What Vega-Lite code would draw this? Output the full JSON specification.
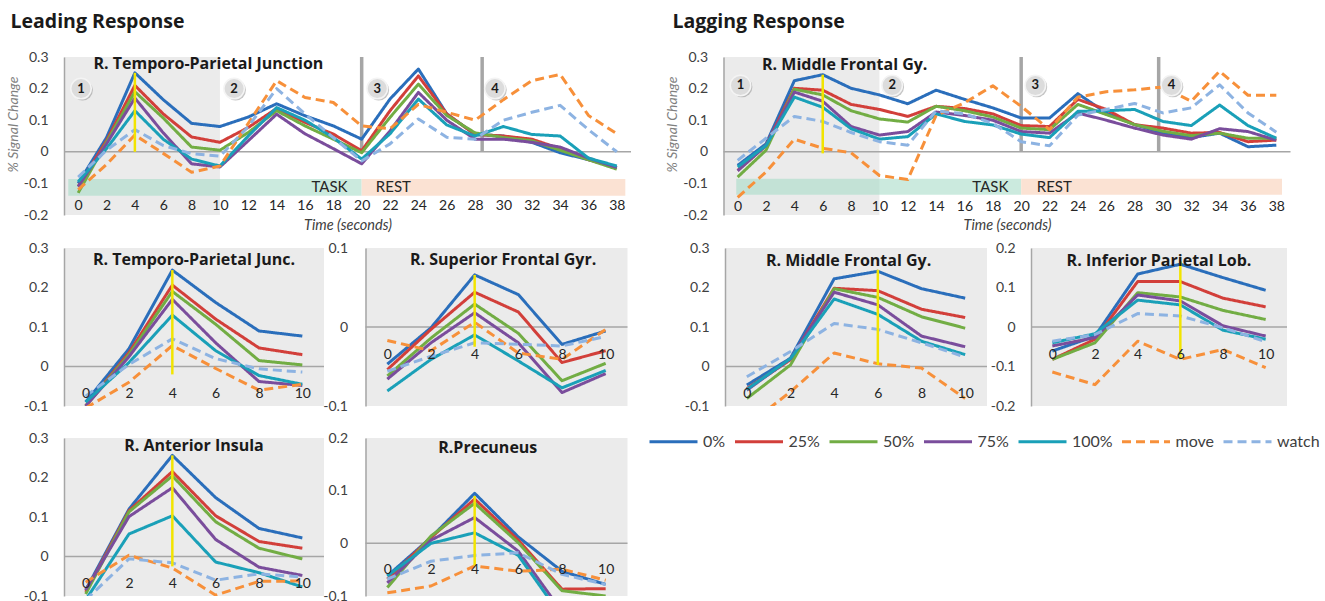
{
"$schema":"https://vega.github.io/schema/vega-lite/v6.json",
"padding":{"left":6,"top":12,"right":2,"bottom":0},
"background":"white",
"config":{"font":"Lato","view":{"stroke":null},
 "axis":{"labelFont":"Lato","titleFont":"Lato","grid":false,"ticks":false,"domainColor":"#a6a6a6","domainWidth":1.5,"labelColor":"#404040","labelFontSize":14,"labelFlush":false,"labelOverlap":false,"tickCount":50,"zindex":1},
 "legend":{"symbolType":"stroke","symbolSize":2304,"symbolStrokeWidth":3,"labelFontSize":16,"labelFont":"Lato","labelColor":"#404040","labelOffset":4,"columnPadding":2.5,"padding":0},
 "title":{"font":"Open Sans"}},
"datasets":{
"lb":[
{"t":0,"s":"0%","v":-0.1},{"t":2,"s":"0%","v":0.045},{"t":4,"s":"0%","v":0.25},{"t":6,"s":"0%","v":0.165},{"t":8,"s":"0%","v":0.09},{"t":10,"s":"0%","v":0.08},{"t":12,"s":"0%","v":0.11},{"t":14,"s":"0%","v":0.152},{"t":16,"s":"0%","v":0.114},{"t":18,"s":"0%","v":0.082},{"t":20,"s":"0%","v":0.04},{"t":22,"s":"0%","v":0.167},{"t":24,"s":"0%","v":0.262},{"t":26,"s":"0%","v":0.12},{"t":28,"s":"0%","v":0.055},{"t":30,"s":"0%","v":0.05},{"t":32,"s":"0%","v":0.03},{"t":34,"s":"0%","v":-0.003},{"t":36,"s":"0%","v":-0.025},{"t":38,"s":"0%","v":-0.05},
{"t":0,"s":"25%","v":-0.11},{"t":2,"s":"25%","v":0.035},{"t":4,"s":"25%","v":0.21},{"t":6,"s":"25%","v":0.12},{"t":8,"s":"25%","v":0.047},{"t":10,"s":"25%","v":0.03},{"t":12,"s":"25%","v":0.077},{"t":14,"s":"25%","v":0.137},{"t":16,"s":"25%","v":0.093},{"t":18,"s":"25%","v":0.056},{"t":20,"s":"25%","v":0.003},{"t":22,"s":"25%","v":0.13},{"t":24,"s":"25%","v":0.24},{"t":26,"s":"25%","v":0.12},{"t":28,"s":"25%","v":0.055},{"t":30,"s":"25%","v":0.05},{"t":32,"s":"25%","v":0.04},{"t":34,"s":"25%","v":0.01},{"t":36,"s":"25%","v":-0.025},{"t":38,"s":"25%","v":-0.05},
{"t":0,"s":"50%","v":-0.13},{"t":2,"s":"50%","v":0.03},{"t":4,"s":"50%","v":0.19},{"t":6,"s":"50%","v":0.107},{"t":8,"s":"50%","v":0.015},{"t":10,"s":"50%","v":0.005},{"t":12,"s":"50%","v":0.061},{"t":14,"s":"50%","v":0.13},{"t":16,"s":"50%","v":0.082},{"t":18,"s":"50%","v":0.04},{"t":20,"s":"50%","v":-0.003},{"t":22,"s":"50%","v":0.109},{"t":24,"s":"50%","v":0.214},{"t":26,"s":"50%","v":0.115},{"t":28,"s":"50%","v":0.06},{"t":30,"s":"50%","v":0.045},{"t":32,"s":"50%","v":0.035},{"t":34,"s":"50%","v":0.005},{"t":36,"s":"50%","v":-0.025},{"t":38,"s":"50%","v":-0.055},
{"t":0,"s":"75%","v":-0.11},{"t":2,"s":"75%","v":0.025},{"t":4,"s":"75%","v":0.17},{"t":6,"s":"75%","v":0.06},{"t":8,"s":"75%","v":-0.038},{"t":10,"s":"75%","v":-0.048},{"t":12,"s":"75%","v":0.035},{"t":14,"s":"75%","v":0.119},{"t":16,"s":"75%","v":0.057},{"t":18,"s":"75%","v":0.01},{"t":20,"s":"75%","v":-0.038},{"t":22,"s":"75%","v":0.066},{"t":24,"s":"75%","v":0.188},{"t":26,"s":"75%","v":0.1},{"t":28,"s":"75%","v":0.04},{"t":30,"s":"75%","v":0.04},{"t":32,"s":"75%","v":0.03},{"t":34,"s":"75%","v":0.015},{"t":36,"s":"75%","v":-0.02},{"t":38,"s":"75%","v":-0.05},
{"t":0,"s":"100%","v":-0.095},{"t":2,"s":"100%","v":0.01},{"t":4,"s":"100%","v":0.13},{"t":6,"s":"100%","v":0.04},{"t":8,"s":"100%","v":-0.023},{"t":10,"s":"100%","v":-0.045},{"t":12,"s":"100%","v":0.05},{"t":14,"s":"100%","v":0.14},{"t":16,"s":"100%","v":0.1},{"t":18,"s":"100%","v":0.045},{"t":20,"s":"100%","v":-0.023},{"t":22,"s":"100%","v":0.057},{"t":24,"s":"100%","v":0.167},{"t":26,"s":"100%","v":0.085},{"t":28,"s":"100%","v":0.05},{"t":30,"s":"100%","v":0.08},{"t":32,"s":"100%","v":0.055},{"t":34,"s":"100%","v":0.05},{"t":36,"s":"100%","v":-0.02},{"t":38,"s":"100%","v":-0.045},
{"t":0,"s":"move","v":-0.12},{"t":2,"s":"move","v":-0.04},{"t":4,"s":"move","v":0.053},{"t":6,"s":"move","v":-0.005},{"t":8,"s":"move","v":-0.065},{"t":10,"s":"move","v":-0.045},{"t":12,"s":"move","v":0.09},{"t":14,"s":"move","v":0.225},{"t":16,"s":"move","v":0.172},{"t":18,"s":"move","v":0.156},{"t":20,"s":"move","v":0.082},{"t":22,"s":"move","v":0.073},{"t":24,"s":"move","v":0.15},{"t":26,"s":"move","v":0.125},{"t":28,"s":"move","v":0.1},{"t":30,"s":"move","v":0.165},{"t":32,"s":"move","v":0.225},{"t":34,"s":"move","v":0.245},{"t":36,"s":"move","v":0.115},{"t":38,"s":"move","v":0.057},
{"t":0,"s":"watch","v":-0.08},{"t":2,"s":"watch","v":0.005},{"t":4,"s":"watch","v":0.07},{"t":6,"s":"watch","v":0.02},{"t":8,"s":"watch","v":-0.006},{"t":10,"s":"watch","v":-0.014},{"t":12,"s":"watch","v":0.08},{"t":14,"s":"watch","v":0.2},{"t":16,"s":"watch","v":0.12},{"t":18,"s":"watch","v":0.045},{"t":20,"s":"watch","v":-0.029},{"t":22,"s":"watch","v":0.025},{"t":24,"s":"watch","v":0.104},{"t":26,"s":"watch","v":0.046},{"t":28,"s":"watch","v":0.04},{"t":30,"s":"watch","v":0.1},{"t":32,"s":"watch","v":0.125},{"t":34,"s":"watch","v":0.147},{"t":36,"s":"watch","v":0.07},{"t":38,"s":"watch","v":0.0}
],
"lg":[
{"t":0,"s":"0%","v":-0.043},{"t":2,"s":"0%","v":0.025},{"t":4,"s":"0%","v":0.225},{"t":6,"s":"0%","v":0.244},{"t":8,"s":"0%","v":0.201},{"t":10,"s":"0%","v":0.18},{"t":12,"s":"0%","v":0.152},{"t":14,"s":"0%","v":0.195},{"t":16,"s":"0%","v":0.166},{"t":18,"s":"0%","v":0.139},{"t":20,"s":"0%","v":0.107},{"t":22,"s":"0%","v":0.107},{"t":24,"s":"0%","v":0.184},{"t":26,"s":"0%","v":0.123},{"t":28,"s":"0%","v":0.086},{"t":30,"s":"0%","v":0.059},{"t":32,"s":"0%","v":0.045},{"t":34,"s":"0%","v":0.059},{"t":36,"s":"0%","v":0.016},{"t":38,"s":"0%","v":0.021},
{"t":0,"s":"25%","v":-0.059},{"t":2,"s":"25%","v":0.02},{"t":4,"s":"25%","v":0.201},{"t":6,"s":"25%","v":0.195},{"t":8,"s":"25%","v":0.15},{"t":10,"s":"25%","v":0.134},{"t":12,"s":"25%","v":0.112},{"t":14,"s":"25%","v":0.144},{"t":16,"s":"25%","v":0.137},{"t":18,"s":"25%","v":0.12},{"t":20,"s":"25%","v":0.083},{"t":22,"s":"25%","v":0.08},{"t":24,"s":"25%","v":0.166},{"t":26,"s":"25%","v":0.134},{"t":28,"s":"25%","v":0.086},{"t":30,"s":"25%","v":0.075},{"t":32,"s":"25%","v":0.059},{"t":34,"s":"25%","v":0.061},{"t":36,"s":"25%","v":0.032},{"t":38,"s":"25%","v":0.037},
{"t":0,"s":"50%","v":-0.08},{"t":2,"s":"50%","v":0.005},{"t":4,"s":"50%","v":0.198},{"t":6,"s":"50%","v":0.18},{"t":8,"s":"50%","v":0.13},{"t":10,"s":"50%","v":0.104},{"t":12,"s":"50%","v":0.094},{"t":14,"s":"50%","v":0.144},{"t":16,"s":"50%","v":0.13},{"t":18,"s":"50%","v":0.11},{"t":20,"s":"50%","v":0.075},{"t":22,"s":"50%","v":0.07},{"t":24,"s":"50%","v":0.15},{"t":26,"s":"50%","v":0.118},{"t":28,"s":"50%","v":0.086},{"t":30,"s":"50%","v":0.065},{"t":32,"s":"50%","v":0.051},{"t":34,"s":"50%","v":0.059},{"t":36,"s":"50%","v":0.043},{"t":38,"s":"50%","v":0.043},
{"t":0,"s":"75%","v":-0.06},{"t":2,"s":"75%","v":0.02},{"t":4,"s":"75%","v":0.189},{"t":6,"s":"75%","v":0.16},{"t":8,"s":"75%","v":0.08},{"t":10,"s":"75%","v":0.053},{"t":12,"s":"75%","v":0.064},{"t":14,"s":"75%","v":0.126},{"t":16,"s":"75%","v":0.115},{"t":18,"s":"75%","v":0.1},{"t":20,"s":"75%","v":0.064},{"t":22,"s":"75%","v":0.059},{"t":24,"s":"75%","v":0.123},{"t":26,"s":"75%","v":0.1},{"t":28,"s":"75%","v":0.075},{"t":30,"s":"75%","v":0.053},{"t":32,"s":"75%","v":0.04},{"t":34,"s":"75%","v":0.073},{"t":36,"s":"75%","v":0.064},{"t":38,"s":"75%","v":0.037},
{"t":0,"s":"100%","v":-0.048},{"t":2,"s":"100%","v":0.02},{"t":4,"s":"100%","v":0.173},{"t":6,"s":"100%","v":0.141},{"t":8,"s":"100%","v":0.073},{"t":10,"s":"100%","v":0.04},{"t":12,"s":"100%","v":0.048},{"t":14,"s":"100%","v":0.12},{"t":16,"s":"100%","v":0.096},{"t":18,"s":"100%","v":0.085},{"t":20,"s":"100%","v":0.056},{"t":22,"s":"100%","v":0.045},{"t":24,"s":"100%","v":0.128},{"t":26,"s":"100%","v":0.13},{"t":28,"s":"100%","v":0.134},{"t":30,"s":"100%","v":0.096},{"t":32,"s":"100%","v":0.083},{"t":34,"s":"100%","v":0.148},{"t":36,"s":"100%","v":0.083},{"t":38,"s":"100%","v":0.043},
{"t":0,"s":"move","v":-0.144},{"t":2,"s":"move","v":-0.064},{"t":4,"s":"move","v":0.04},{"t":6,"s":"move","v":0.011},{"t":8,"s":"move","v":-0.003},{"t":10,"s":"move","v":-0.075},{"t":12,"s":"move","v":-0.088},{"t":14,"s":"move","v":0.115},{"t":16,"s":"move","v":0.155},{"t":18,"s":"move","v":0.209},{"t":20,"s":"move","v":0.144},{"t":22,"s":"move","v":0.07},{"t":24,"s":"move","v":0.173},{"t":26,"s":"move","v":0.19},{"t":28,"s":"move","v":0.196},{"t":30,"s":"move","v":0.205},{"t":32,"s":"move","v":0.16},{"t":34,"s":"move","v":0.255},{"t":36,"s":"move","v":0.179},{"t":38,"s":"move","v":0.179},
{"t":0,"s":"watch","v":-0.027},{"t":2,"s":"watch","v":0.043},{"t":4,"s":"watch","v":0.112},{"t":6,"s":"watch","v":0.096},{"t":8,"s":"watch","v":0.061},{"t":10,"s":"watch","v":0.032},{"t":12,"s":"watch","v":0.021},{"t":14,"s":"watch","v":0.13},{"t":16,"s":"watch","v":0.12},{"t":18,"s":"watch","v":0.09},{"t":20,"s":"watch","v":0.032},{"t":22,"s":"watch","v":0.019},{"t":24,"s":"watch","v":0.116},{"t":26,"s":"watch","v":0.134},{"t":28,"s":"watch","v":0.153},{"t":30,"s":"watch","v":0.123},{"t":32,"s":"watch","v":0.139},{"t":34,"s":"watch","v":0.212},{"t":36,"s":"watch","v":0.123},{"t":38,"s":"watch","v":0.062}
],
"tpj":[
{"t":0,"s":"0%","v":-0.09},{"t":2,"s":"0%","v":0.045},{"t":4,"s":"0%","v":0.244},{"t":6,"s":"0%","v":0.162},{"t":8,"s":"0%","v":0.09},{"t":10,"s":"0%","v":0.077},
{"t":0,"s":"25%","v":-0.1},{"t":2,"s":"25%","v":0.035},{"t":4,"s":"25%","v":0.206},{"t":6,"s":"25%","v":0.12},{"t":8,"s":"25%","v":0.047},{"t":10,"s":"25%","v":0.03},
{"t":0,"s":"50%","v":-0.1},{"t":2,"s":"50%","v":0.03},{"t":4,"s":"50%","v":0.19},{"t":6,"s":"50%","v":0.107},{"t":8,"s":"50%","v":0.015},{"t":10,"s":"50%","v":0.004},
{"t":0,"s":"75%","v":-0.1},{"t":2,"s":"75%","v":0.025},{"t":4,"s":"75%","v":0.17},{"t":6,"s":"75%","v":0.06},{"t":8,"s":"75%","v":-0.038},{"t":10,"s":"75%","v":-0.048},
{"t":0,"s":"100%","v":-0.09},{"t":2,"s":"100%","v":0.01},{"t":4,"s":"100%","v":0.13},{"t":6,"s":"100%","v":0.04},{"t":8,"s":"100%","v":-0.023},{"t":10,"s":"100%","v":-0.045},
{"t":0,"s":"move","v":-0.105},{"t":2,"s":"move","v":-0.04},{"t":4,"s":"move","v":0.053},{"t":6,"s":"move","v":-0.005},{"t":8,"s":"move","v":-0.06},{"t":10,"s":"move","v":-0.045},
{"t":0,"s":"watch","v":-0.075},{"t":2,"s":"watch","v":0.005},{"t":4,"s":"watch","v":0.07},{"t":6,"s":"watch","v":0.02},{"t":8,"s":"watch","v":-0.006},{"t":10,"s":"watch","v":-0.014}
],
"sfg":[
{"t":0,"s":"0%","v":-0.047},{"t":2,"s":"0%","v":-0.001},{"t":4,"s":"0%","v":0.066},{"t":6,"s":"0%","v":0.041},{"t":8,"s":"0%","v":-0.022},{"t":10,"s":"0%","v":-0.005},
{"t":0,"s":"25%","v":-0.054},{"t":2,"s":"25%","v":-0.003},{"t":4,"s":"25%","v":0.044},{"t":6,"s":"25%","v":0.019},{"t":8,"s":"25%","v":-0.045},{"t":10,"s":"25%","v":-0.03},
{"t":0,"s":"50%","v":-0.062},{"t":2,"s":"50%","v":-0.014},{"t":4,"s":"50%","v":0.029},{"t":6,"s":"50%","v":-0.008},{"t":8,"s":"50%","v":-0.068},{"t":10,"s":"50%","v":-0.046},
{"t":0,"s":"75%","v":-0.066},{"t":2,"s":"75%","v":-0.02},{"t":4,"s":"75%","v":0.018},{"t":6,"s":"75%","v":-0.02},{"t":8,"s":"75%","v":-0.083},{"t":10,"s":"75%","v":-0.059},
{"t":0,"s":"100%","v":-0.081},{"t":2,"s":"100%","v":-0.041},{"t":4,"s":"100%","v":-0.01},{"t":6,"s":"100%","v":-0.043},{"t":8,"s":"100%","v":-0.077},{"t":10,"s":"100%","v":-0.055},
{"t":0,"s":"move","v":-0.017},{"t":2,"s":"move","v":-0.03},{"t":4,"s":"move","v":0.006},{"t":6,"s":"move","v":-0.033},{"t":8,"s":"move","v":-0.041},{"t":10,"s":"move","v":-0.003},
{"t":0,"s":"watch","v":-0.056},{"t":2,"s":"watch","v":-0.037},{"t":4,"s":"watch","v":-0.02},{"t":6,"s":"watch","v":-0.022},{"t":8,"s":"watch","v":-0.024},{"t":10,"s":"watch","v":-0.012}
],
"ai":[
{"t":0,"s":"0%","v":-0.085},{"t":2,"s":"0%","v":0.12},{"t":4,"s":"0%","v":0.256},{"t":6,"s":"0%","v":0.149},{"t":8,"s":"0%","v":0.071},{"t":10,"s":"0%","v":0.047},
{"t":0,"s":"25%","v":-0.09},{"t":2,"s":"25%","v":0.116},{"t":4,"s":"25%","v":0.215},{"t":6,"s":"25%","v":0.103},{"t":8,"s":"25%","v":0.038},{"t":10,"s":"25%","v":0.021},
{"t":0,"s":"50%","v":-0.095},{"t":2,"s":"50%","v":0.113},{"t":4,"s":"50%","v":0.204},{"t":6,"s":"50%","v":0.088},{"t":8,"s":"50%","v":0.021},{"t":10,"s":"50%","v":-0.006},
{"t":0,"s":"75%","v":-0.085},{"t":2,"s":"75%","v":0.101},{"t":4,"s":"75%","v":0.174},{"t":6,"s":"75%","v":0.043},{"t":8,"s":"75%","v":-0.027},{"t":10,"s":"75%","v":-0.048},
{"t":0,"s":"100%","v":-0.11},{"t":2,"s":"100%","v":0.057},{"t":4,"s":"100%","v":0.103},{"t":6,"s":"100%","v":-0.014},{"t":8,"s":"100%","v":-0.041},{"t":10,"s":"100%","v":-0.077},
{"t":0,"s":"move","v":-0.065},{"t":2,"s":"move","v":0.003},{"t":4,"s":"move","v":-0.029},{"t":6,"s":"move","v":-0.098},{"t":8,"s":"move","v":-0.063},{"t":10,"s":"move","v":-0.062},
{"t":0,"s":"watch","v":-0.11},{"t":2,"s":"watch","v":-0.006},{"t":4,"s":"watch","v":-0.016},{"t":6,"s":"watch","v":-0.06},{"t":8,"s":"watch","v":-0.044},{"t":10,"s":"watch","v":-0.052}
],
"pre":[
{"t":0,"s":"0%","v":-0.062},{"t":2,"s":"0%","v":0.011},{"t":4,"s":"0%","v":0.095},{"t":6,"s":"0%","v":0.012},{"t":8,"s":"0%","v":-0.053},{"t":10,"s":"0%","v":-0.078},
{"t":0,"s":"25%","v":-0.068},{"t":2,"s":"25%","v":0.011},{"t":4,"s":"25%","v":0.084},{"t":6,"s":"25%","v":0.006},{"t":8,"s":"25%","v":-0.087},{"t":10,"s":"25%","v":-0.086},
{"t":0,"s":"50%","v":-0.084},{"t":2,"s":"50%","v":0.014},{"t":4,"s":"50%","v":0.076},{"t":6,"s":"50%","v":0.001},{"t":8,"s":"50%","v":-0.09},{"t":10,"s":"50%","v":-0.1},
{"t":0,"s":"75%","v":-0.075},{"t":2,"s":"75%","v":0.006},{"t":4,"s":"75%","v":0.049},{"t":6,"s":"75%","v":-0.015},{"t":8,"s":"75%","v":-0.13},{"t":10,"s":"75%","v":-0.13},
{"t":0,"s":"100%","v":-0.062},{"t":2,"s":"100%","v":0.0},{"t":4,"s":"100%","v":0.02},{"t":6,"s":"100%","v":-0.023},{"t":8,"s":"100%","v":-0.14},{"t":10,"s":"100%","v":-0.14},
{"t":0,"s":"move","v":-0.094},{"t":2,"s":"move","v":-0.081},{"t":4,"s":"move","v":-0.043},{"t":6,"s":"move","v":-0.053},{"t":8,"s":"move","v":-0.049},{"t":10,"s":"move","v":-0.07},
{"t":0,"s":"watch","v":-0.068},{"t":2,"s":"watch","v":-0.034},{"t":4,"s":"watch","v":-0.023},{"t":6,"s":"watch","v":-0.018},{"t":8,"s":"watch","v":-0.059},{"t":10,"s":"watch","v":-0.078}
],
"mfg":[
{"t":0,"s":"0%","v":-0.047},{"t":2,"s":"0%","v":0.021},{"t":4,"s":"0%","v":0.222},{"t":6,"s":"0%","v":0.241},{"t":8,"s":"0%","v":0.197},{"t":10,"s":"0%","v":0.173},
{"t":0,"s":"25%","v":-0.056},{"t":2,"s":"25%","v":0.017},{"t":4,"s":"25%","v":0.198},{"t":6,"s":"25%","v":0.192},{"t":8,"s":"25%","v":0.145},{"t":10,"s":"25%","v":0.124},
{"t":0,"s":"50%","v":-0.081},{"t":2,"s":"50%","v":0.004},{"t":4,"s":"50%","v":0.197},{"t":6,"s":"50%","v":0.175},{"t":8,"s":"50%","v":0.126},{"t":10,"s":"50%","v":0.097},
{"t":0,"s":"75%","v":-0.06},{"t":2,"s":"75%","v":0.02},{"t":4,"s":"75%","v":0.188},{"t":6,"s":"75%","v":0.156},{"t":8,"s":"75%","v":0.077},{"t":10,"s":"75%","v":0.05},
{"t":0,"s":"100%","v":-0.058},{"t":2,"s":"100%","v":0.02},{"t":4,"s":"100%","v":0.171},{"t":6,"s":"100%","v":0.132},{"t":8,"s":"100%","v":0.064},{"t":10,"s":"100%","v":0.03},
{"t":0,"s":"move","v":-0.15},{"t":2,"s":"move","v":-0.064},{"t":4,"s":"move","v":0.034},{"t":6,"s":"move","v":0.007},{"t":8,"s":"move","v":-0.004},{"t":10,"s":"move","v":-0.081},
{"t":0,"s":"watch","v":-0.026},{"t":2,"s":"watch","v":0.038},{"t":4,"s":"watch","v":0.109},{"t":6,"s":"watch","v":0.094},{"t":8,"s":"watch","v":0.06},{"t":10,"s":"watch","v":0.024}
],
"ipl":[
{"t":0,"s":"0%","v":-0.061},{"t":2,"s":"0%","v":-0.023},{"t":4,"s":"0%","v":0.134},{"t":6,"s":"0%","v":0.159},{"t":8,"s":"0%","v":0.125},{"t":10,"s":"0%","v":0.093},
{"t":0,"s":"25%","v":-0.082},{"t":2,"s":"25%","v":-0.031},{"t":4,"s":"25%","v":0.115},{"t":6,"s":"25%","v":0.115},{"t":8,"s":"25%","v":0.073},{"t":10,"s":"25%","v":0.051},
{"t":0,"s":"50%","v":-0.082},{"t":2,"s":"50%","v":-0.04},{"t":4,"s":"50%","v":0.087},{"t":6,"s":"50%","v":0.076},{"t":8,"s":"50%","v":0.042},{"t":10,"s":"50%","v":0.019},
{"t":0,"s":"75%","v":-0.048},{"t":2,"s":"75%","v":-0.027},{"t":4,"s":"75%","v":0.081},{"t":6,"s":"75%","v":0.066},{"t":8,"s":"75%","v":0.003},{"t":10,"s":"75%","v":-0.023},
{"t":0,"s":"100%","v":-0.04},{"t":2,"s":"100%","v":-0.017},{"t":4,"s":"100%","v":0.068},{"t":6,"s":"100%","v":0.056},{"t":8,"s":"100%","v":-0.008},{"t":10,"s":"100%","v":-0.031},
{"t":0,"s":"move","v":-0.114},{"t":2,"s":"move","v":-0.146},{"t":4,"s":"move","v":-0.036},{"t":6,"s":"move","v":-0.082},{"t":8,"s":"move","v":-0.057},{"t":10,"s":"move","v":-0.103},
{"t":0,"s":"watch","v":-0.036},{"t":2,"s":"watch","v":-0.019},{"t":4,"s":"watch","v":0.034},{"t":6,"s":"watch","v":0.028},{"t":8,"s":"watch","v":-0.002},{"t":10,"s":"watch","v":-0.037}
]
},
"spacing":9,
"vconcat":[
{"bounds":"flush","spacing":92.5,"hconcat":[
 {"width":567,"height":158,
  "title":{"text":"Leading Response","anchor":"start","font":"Open Sans","fontSize":19.5,"fontWeight":"bold","color":"#1a1a1a","dx":-53.5,"offset":17.5,"frame":"group"},
  "data":{"values":[{}]},
  "layer":[
   {"mark":{"type":"rect","color":"#ebebeb"},"encoding":{"x":{"datum":-1},"x2":{"datum":10},"y":{"datum":0.3},"y2":{"datum":-0.2}}},
   {"mark":{"type":"rect","color":"#a8dcc8","opacity":0.6},"encoding":{"x":{"datum":-0.7},"x2":{"datum":20},"y":{"datum":-0.086},"y2":{"datum":-0.139}}},
   {"mark":{"type":"rect","color":"#fbe2d3"},"encoding":{"x":{"datum":20},"x2":{"datum":38.6},"y":{"datum":-0.086},"y2":{"datum":-0.139}}},
   {"mark":{"type":"text","align":"right","baseline":"middle","fontSize":15,"color":"#262626"},"encoding":{"x":{"datum":19},"y":{"datum":-0.112},"text":{"value":"TASK"}}},
   {"mark":{"type":"text","align":"left","baseline":"middle","fontSize":15,"color":"#262626"},"encoding":{"x":{"datum":21},"y":{"datum":-0.112},"text":{"value":"REST"}}},
   {"mark":{"type":"rule","color":"#a6a6a6","strokeWidth":3.5},"encoding":{"x":{"datum":20},"y":{"datum":0.3},"y2":{"datum":0}}},
   {"mark":{"type":"rule","color":"#a6a6a6","strokeWidth":3.5},"encoding":{"x":{"datum":28.5},"y":{"datum":0.3},"y2":{"datum":0}}},
   {"mark":{"type":"rule","color":"#a6a6a6","strokeWidth":1.5},"encoding":{"y":{"datum":0}}},
   {"data":{"name":"lb"},"mark":{"type":"line","strokeWidth":3,"strokeJoin":"round","clip":true},
    "encoding":{
     "x":{"field":"t","type":"quantitative","scale":{"domain":[-1,39],"nice":false,"zero":false},"axis":{"values":[0,2,4,6,8,10,12,14,16,18,20,22,24,26,28,30,32,34,36,38],"tickCount":50,"format":"d","title":"Time (seconds)","titleFontStyle":"italic","titleFontWeight":"normal","titleFontSize":14.5,"titleColor":"#404040","titlePadding":3,"labelPadding":-10,"labelBaseline":"middle","domain":false,"labelColor":"#262626","labelOverlap":false,"labelFlush":false,"zindex":1}},
     "y":{"field":"v","type":"quantitative","scale":{"domain":[-0.2,0.3],"nice":false,"zero":false},"axis":{"values":[-0.2,-0.1,0,0.1,0.2,0.3],"tickCount":50,"labelExpr":"replace(format(datum.value, '.1~f'), '\u2212', '-')","title":"% Signal Change","titleY":67,"titleFontStyle":"italic","titleFontWeight":"normal","titleFontSize":14,"titleColor":"#7f7f7f","titlePadding":3,"labelPadding":16,"labelOverlap":false,"labelFlush":false,"zindex":1}},
     "color":{"field":"s","type":"nominal","scale":{"domain":["0%","25%","50%","75%","100%","move","watch"],"range":["#2a6ebb","#d23f3a","#72ad44","#7a4d9c","#1aa0b8","#f7903a","#8db3e2"]},"legend":{"title":null,"orient":"none","legendX":584,"legendY":359,"direction":"horizontal"}},
     "strokeDash":{"field":"s","type":"nominal","scale":{"domain":["0%","25%","50%","75%","100%","move","watch"],"range":[[1,0],[1,0],[1,0],[1,0],[1,0],[9,5],[9,5]]},"legend":{"title":null,"orient":"none","legendX":584,"legendY":359,"direction":"horizontal"}}}},
   {"mark":{"type":"rule","color":"#f2e400","strokeWidth":2.5},"encoding":{"x":{"datum":4},"y":{"datum":0.25},"y2":{"datum":0}}},
   {"data":{"values":[{"t":0.2,"n":"1"},{"t":11,"n":"2"},{"t":21.1,"n":"3"},{"t":29.4,"n":"4"}]},"mark":{"type":"point","filled":true,"size":430,"color":"#8c8c8c","opacity":0.5,"xOffset":1.5,"yOffset":1.5},"encoding":{"x":{"field":"t","type":"quantitative"},"y":{"datum":0.2}}},
   {"data":{"values":[{"t":0.2,"n":"1"},{"t":11,"n":"2"},{"t":21.1,"n":"3"},{"t":29.4,"n":"4"}]},"mark":{"type":"point","filled":true,"size":420,"color":"#dcdcdc","opacity":1,"stroke":"#f4f4f4","strokeWidth":1.5},"encoding":{"x":{"field":"t","type":"quantitative"},"y":{"datum":0.2}}},
   {"data":{"values":[{"t":0.2,"n":"1"},{"t":11,"n":"2"},{"t":21.1,"n":"3"},{"t":29.4,"n":"4"}]},"mark":{"type":"text","fontSize":13,"fontWeight":"bold","color":"#1a1a1a","baseline":"middle"},"encoding":{"x":{"field":"t","type":"quantitative"},"y":{"datum":0.2},"text":{"field":"n"}}},
   {"mark":{"type":"text","align":"left","baseline":"middle","font":"Open Sans","fontSize":16,"fontWeight":"bold","color":"#1a1a1a"},"encoding":{"x":{"datum":1.08},"y":{"datum":0.278},"text":{"value":"R. Temporo-Parietal Junction"}}}
  ]},
 {"width":567,"height":158,
  "title":{"text":"Lagging Response","anchor":"start","font":"Open Sans","fontSize":19.5,"fontWeight":"bold","color":"#1a1a1a","dx":-51,"offset":17.5,"frame":"group"},
  "data":{"values":[{}]},
  "layer":[
   {"mark":{"type":"rect","color":"#ebebeb"},"encoding":{"x":{"datum":-1},"x2":{"datum":10},"y":{"datum":0.3},"y2":{"datum":-0.2}}},
   {"mark":{"type":"rect","color":"#a8dcc8","opacity":0.6},"encoding":{"x":{"datum":-0.1},"x2":{"datum":20},"y":{"datum":-0.085},"y2":{"datum":-0.136}}},
   {"mark":{"type":"rect","color":"#fbe2d3"},"encoding":{"x":{"datum":20},"x2":{"datum":38.4},"y":{"datum":-0.085},"y2":{"datum":-0.136}}},
   {"mark":{"type":"text","align":"right","baseline":"middle","fontSize":15,"color":"#262626"},"encoding":{"x":{"datum":19.1},"y":{"datum":-0.11},"text":{"value":"TASK"}}},
   {"mark":{"type":"text","align":"left","baseline":"middle","fontSize":15,"color":"#262626"},"encoding":{"x":{"datum":21.1},"y":{"datum":-0.11},"text":{"value":"REST"}}},
   {"mark":{"type":"rule","color":"#a6a6a6","strokeWidth":3.5},"encoding":{"x":{"datum":20},"y":{"datum":0.3},"y2":{"datum":0}}},
   {"mark":{"type":"rule","color":"#a6a6a6","strokeWidth":3.5},"encoding":{"x":{"datum":29.7},"y":{"datum":0.3},"y2":{"datum":0}}},
   {"mark":{"type":"rule","color":"#a6a6a6","strokeWidth":1.5},"encoding":{"y":{"datum":0}}},
   {"data":{"name":"lg"},"mark":{"type":"line","strokeWidth":3,"strokeJoin":"round","clip":true},
    "encoding":{
     "x":{"field":"t","type":"quantitative","scale":{"domain":[-1,39],"nice":false,"zero":false},"axis":{"values":[0,2,4,6,8,10,12,14,16,18,20,22,24,26,28,30,32,34,36,38],"tickCount":50,"format":"d","title":"Time (seconds)","titleFontStyle":"italic","titleFontWeight":"normal","titleFontSize":14.5,"titleColor":"#404040","titlePadding":3,"labelPadding":-8.5,"labelBaseline":"middle","domain":false,"labelColor":"#262626","labelOverlap":false,"labelFlush":false,"zindex":1}},
     "y":{"field":"v","type":"quantitative","scale":{"domain":[-0.2,0.3],"nice":false,"zero":false},"axis":{"values":[-0.2,-0.1,0,0.1,0.2,0.3],"tickCount":50,"labelExpr":"replace(format(datum.value, '.1~f'), '\u2212', '-')","title":"% Signal Change","titleY":67,"titleFontStyle":"italic","titleFontWeight":"normal","titleFontSize":14,"titleColor":"#7f7f7f","titlePadding":3,"labelPadding":16,"labelOverlap":false,"labelFlush":false,"zindex":1}},
     "color":{"field":"s","type":"nominal","scale":{"domain":["0%","25%","50%","75%","100%","move","watch"],"range":["#2a6ebb","#d23f3a","#72ad44","#7a4d9c","#1aa0b8","#f7903a","#8db3e2"]},"legend":{"title":null,"orient":"none","legendX":584,"legendY":359,"direction":"horizontal"}},
     "strokeDash":{"field":"s","type":"nominal","scale":{"domain":["0%","25%","50%","75%","100%","move","watch"],"range":[[1,0],[1,0],[1,0],[1,0],[1,0],[9,5],[9,5]]},"legend":{"title":null,"orient":"none","legendX":584,"legendY":359,"direction":"horizontal"}}}},
   {"mark":{"type":"rule","color":"#f2e400","strokeWidth":2.5},"encoding":{"x":{"datum":6},"y":{"datum":0.244},"y2":{"datum":-0.005}}},
   {"data":{"values":[{"t":0.2,"n":"1"},{"t":10.9,"n":"2"},{"t":21,"n":"3"},{"t":30.6,"n":"4"}]},"mark":{"type":"point","filled":true,"size":430,"color":"#8c8c8c","opacity":0.5,"xOffset":1.5,"yOffset":1.5},"encoding":{"x":{"field":"t","type":"quantitative"},"y":{"datum":0.21}}},
   {"data":{"values":[{"t":0.2,"n":"1"},{"t":10.9,"n":"2"},{"t":21,"n":"3"},{"t":30.6,"n":"4"}]},"mark":{"type":"point","filled":true,"size":420,"color":"#dcdcdc","opacity":1,"stroke":"#f4f4f4","strokeWidth":1.5},"encoding":{"x":{"field":"t","type":"quantitative"},"y":{"datum":0.21}}},
   {"data":{"values":[{"t":0.2,"n":"1"},{"t":10.9,"n":"2"},{"t":21,"n":"3"},{"t":30.6,"n":"4"}]},"mark":{"type":"text","fontSize":13,"fontWeight":"bold","color":"#1a1a1a","baseline":"middle"},"encoding":{"x":{"field":"t","type":"quantitative"},"y":{"datum":0.21},"text":{"field":"n"}}},
   {"mark":{"type":"text","align":"left","baseline":"middle","font":"Open Sans","fontSize":16,"fontWeight":"bold","color":"#1a1a1a"},"encoding":{"x":{"datum":1.72},"y":{"datum":0.275},"text":{"value":"R. Middle Frontal Gy."}}}
  ]}
]},
{"spacing":18,"vconcat":[
 {"spacing":55,"hconcat":[
  {"bounds":"flush","spacing":41.5,"hconcat":[
   {"width":260,"height":158,"view":{"fill":"#ebebeb","stroke":null},"data":{"values":[{}]},
    "layer":[
     {"mark":{"type":"rule","color":"#a6a6a6","strokeWidth":1.5},"encoding":{"y":{"datum":0}}},
     {"data":{"name":"tpj"},"mark":{"type":"line","strokeWidth":3,"strokeJoin":"round","clip":true},
      "encoding":{
       "x":{"field":"t","type":"quantitative","scale":{"domain":[-1,11],"nice":false,"zero":false},"axis":{"values":[0,2,4,6,8,10],"tickCount":50,"format":"d","title":null,"labelPadding":-13,"labelBaseline":"middle","domain":false,"labelColor":"#262626","labelOverlap":false,"labelFlush":false,"zindex":1}},
       "y":{"field":"v","type":"quantitative","scale":{"domain":[-0.1,0.3],"nice":false,"zero":false},"axis":{"values":[-0.1,0,0.1,0.2,0.3],"tickCount":50,"labelExpr":"replace(format(datum.value, '.1~f'), '\u2212', '-')","title":"% Signal Change","titleOpacity":0,"titleFontStyle":"italic","titleFontWeight":"normal","titleFontSize":14,"titlePadding":3,"labelPadding":16,"labelOverlap":false,"labelFlush":false,"zindex":1}},
       "color":{"field":"s","type":"nominal","scale":{"domain":["0%","25%","50%","75%","100%","move","watch"],"range":["#2a6ebb","#d23f3a","#72ad44","#7a4d9c","#1aa0b8","#f7903a","#8db3e2"]},"legend":{"title":null,"orient":"none","legendX":584,"legendY":359,"direction":"horizontal"}},
       "strokeDash":{"field":"s","type":"nominal","scale":{"domain":["0%","25%","50%","75%","100%","move","watch"],"range":[[1,0],[1,0],[1,0],[1,0],[1,0],[9,5],[9,5]]},"legend":{"title":null,"orient":"none","legendX":584,"legendY":359,"direction":"horizontal"}}}},
     {"mark":{"type":"rule","color":"#f2e400","strokeWidth":2.5},"encoding":{"x":{"datum":4},"y":{"datum":0.244},"y2":{"datum":-0.02}}},
     {"mark":{"type":"text","align":"center","baseline":"middle","font":"Open Sans","fontSize":16,"fontWeight":"bold","color":"#1a1a1a"},"encoding":{"x":{"datum":5},"y":{"datum":0.27},"text":{"value":"R. Temporo-Parietal Junc."}}}
    ]},
   {"width":262,"height":158,"view":{"fill":"#ebebeb","stroke":null},"data":{"values":[{}]},
    "layer":[
     {"mark":{"type":"rule","color":"#a6a6a6","strokeWidth":1.5},"encoding":{"y":{"datum":0}}},
     {"data":{"name":"sfg"},"mark":{"type":"line","strokeWidth":3,"strokeJoin":"round","clip":true},
      "encoding":{
       "x":{"field":"t","type":"quantitative","scale":{"domain":[-1,11],"nice":false,"zero":false},"axis":{"values":[0,2,4,6,8,10],"tickCount":50,"format":"d","title":null,"labelPadding":-51.5,"labelBaseline":"middle","domain":false,"labelColor":"#262626","labelOverlap":false,"labelFlush":false,"zindex":1}},
       "y":{"field":"v","type":"quantitative","scale":{"domain":[-0.1,0.1],"nice":false,"zero":false},"axis":{"values":[-0.1,0,0.1],"tickCount":50,"labelExpr":"replace(format(datum.value, '.1~f'), '\u2212', '-')","title":null,"labelPadding":18,"labelOverlap":false,"labelFlush":false,"zindex":1}},
       "color":{"field":"s","type":"nominal","scale":{"domain":["0%","25%","50%","75%","100%","move","watch"],"range":["#2a6ebb","#d23f3a","#72ad44","#7a4d9c","#1aa0b8","#f7903a","#8db3e2"]},"legend":{"title":null,"orient":"none","legendX":584,"legendY":359,"direction":"horizontal"}},
       "strokeDash":{"field":"s","type":"nominal","scale":{"domain":["0%","25%","50%","75%","100%","move","watch"],"range":[[1,0],[1,0],[1,0],[1,0],[1,0],[9,5],[9,5]]},"legend":{"title":null,"orient":"none","legendX":584,"legendY":359,"direction":"horizontal"}}}},
     {"mark":{"type":"rule","color":"#f2e400","strokeWidth":2.5},"encoding":{"x":{"datum":4},"y":{"datum":0.066},"y2":{"datum":-0.025}}},
     {"mark":{"type":"text","align":"center","baseline":"middle","font":"Open Sans","fontSize":16,"fontWeight":"bold","color":"#1a1a1a"},"encoding":{"x":{"datum":5.3},"y":{"datum":0.085},"text":{"value":"R. Superior Frontal Gyr."}}}
    ]}
  ]},
  {"bounds":"flush","spacing":44,"hconcat":[
   {"width":262,"height":158,"view":{"fill":"#ebebeb","stroke":null},"data":{"values":[{}]},
    "layer":[
     {"mark":{"type":"rule","color":"#a6a6a6","strokeWidth":1.5},"encoding":{"y":{"datum":0}}},
     {"data":{"name":"mfg"},"mark":{"type":"line","strokeWidth":3,"strokeJoin":"round","clip":true},
      "encoding":{
       "x":{"field":"t","type":"quantitative","scale":{"domain":[-1,11],"nice":false,"zero":false},"axis":{"values":[0,2,4,6,8,10],"tickCount":50,"format":"d","title":null,"labelPadding":-12.5,"labelBaseline":"middle","domain":false,"labelColor":"#262626","labelOverlap":false,"labelFlush":false,"zindex":1}},
       "y":{"field":"v","type":"quantitative","scale":{"domain":[-0.1,0.3],"nice":false,"zero":false},"axis":{"values":[-0.1,0,0.1,0.2,0.3],"tickCount":50,"labelExpr":"replace(format(datum.value, '.1~f'), '\u2212', '-')","title":null,"labelPadding":16,"labelOverlap":false,"labelFlush":false,"zindex":1}},
       "color":{"field":"s","type":"nominal","scale":{"domain":["0%","25%","50%","75%","100%","move","watch"],"range":["#2a6ebb","#d23f3a","#72ad44","#7a4d9c","#1aa0b8","#f7903a","#8db3e2"]},"legend":{"title":null,"orient":"none","legendX":584,"legendY":359,"direction":"horizontal"}},
       "strokeDash":{"field":"s","type":"nominal","scale":{"domain":["0%","25%","50%","75%","100%","move","watch"],"range":[[1,0],[1,0],[1,0],[1,0],[1,0],[9,5],[9,5]]},"legend":{"title":null,"orient":"none","legendX":584,"legendY":359,"direction":"horizontal"}}}},
     {"mark":{"type":"rule","color":"#f2e400","strokeWidth":2.5},"encoding":{"x":{"datum":6},"y":{"datum":0.245},"y2":{"datum":0.004}}},
     {"mark":{"type":"text","align":"center","baseline":"middle","font":"Open Sans","fontSize":16,"fontWeight":"bold","color":"#1a1a1a"},"encoding":{"x":{"datum":4.66},"y":{"datum":0.266},"text":{"value":"R. Middle Frontal Gy."}}}
    ]},
   {"width":256,"height":158,"view":{"fill":"#ebebeb","stroke":null},"data":{"values":[{}]},
    "layer":[
     {"mark":{"type":"rule","color":"#a6a6a6","strokeWidth":1.5},"encoding":{"y":{"datum":0}}},
     {"data":{"name":"ipl"},"mark":{"type":"line","strokeWidth":3,"strokeJoin":"round","clip":true},
      "encoding":{
       "x":{"field":"t","type":"quantitative","scale":{"domain":[-1,11],"nice":false,"zero":false},"axis":{"values":[0,2,4,6,8,10],"tickCount":50,"format":"d","title":null,"labelPadding":-51.5,"labelBaseline":"middle","domain":false,"labelColor":"#262626","labelOverlap":false,"labelFlush":false,"zindex":1}},
       "y":{"field":"v","type":"quantitative","scale":{"domain":[-0.2,0.2],"nice":false,"zero":false},"axis":{"values":[-0.2,-0.1,0,0.1,0.2],"tickCount":50,"labelExpr":"replace(format(datum.value, '.1~f'), '\u2212', '-')","title":null,"labelPadding":16,"labelOverlap":false,"labelFlush":false,"zindex":1}},
       "color":{"field":"s","type":"nominal","scale":{"domain":["0%","25%","50%","75%","100%","move","watch"],"range":["#2a6ebb","#d23f3a","#72ad44","#7a4d9c","#1aa0b8","#f7903a","#8db3e2"]},"legend":{"title":null,"orient":"none","legendX":584,"legendY":359,"direction":"horizontal"}},
       "strokeDash":{"field":"s","type":"nominal","scale":{"domain":["0%","25%","50%","75%","100%","move","watch"],"range":[[1,0],[1,0],[1,0],[1,0],[1,0],[9,5],[9,5]]},"legend":{"title":null,"orient":"none","legendX":584,"legendY":359,"direction":"horizontal"}}}},
     {"mark":{"type":"rule","color":"#f2e400","strokeWidth":2.5},"encoding":{"x":{"datum":6},"y":{"datum":0.166},"y2":{"datum":-0.082}}},
     {"mark":{"type":"text","align":"center","baseline":"middle","font":"Open Sans","fontSize":16,"fontWeight":"bold","color":"#1a1a1a"},"encoding":{"x":{"datum":5},"y":{"datum":0.168},"text":{"value":"R. Inferior Parietal Lob."}}}
    ]}
  ]}
 ]},
 {"bounds":"flush","spacing":41.5,"hconcat":[
  {"width":260,"height":158,"view":{"fill":"#ebebeb","stroke":null},"data":{"values":[{}]},
   "layer":[
    {"mark":{"type":"rule","color":"#a6a6a6","strokeWidth":1.5},"encoding":{"y":{"datum":0}}},
    {"data":{"name":"ai"},"mark":{"type":"line","strokeWidth":3,"strokeJoin":"round","clip":true},
     "encoding":{
      "x":{"field":"t","type":"quantitative","scale":{"domain":[-1,11],"nice":false,"zero":false},"axis":{"values":[0,2,4,6,8,10],"tickCount":50,"format":"d","title":null,"labelPadding":-13,"labelBaseline":"middle","domain":false,"labelColor":"#262626","labelOverlap":false,"labelFlush":false,"zindex":1}},
      "y":{"field":"v","type":"quantitative","scale":{"domain":[-0.1,0.3],"nice":false,"zero":false},"axis":{"values":[-0.1,0,0.1,0.2,0.3],"tickCount":50,"labelExpr":"replace(format(datum.value, '.1~f'), '\u2212', '-')","title":"% Signal Change","titleOpacity":0,"titleFontStyle":"italic","titleFontWeight":"normal","titleFontSize":14,"titlePadding":3,"labelPadding":16,"labelOverlap":false,"labelFlush":false,"zindex":1}},
      "color":{"field":"s","type":"nominal","scale":{"domain":["0%","25%","50%","75%","100%","move","watch"],"range":["#2a6ebb","#d23f3a","#72ad44","#7a4d9c","#1aa0b8","#f7903a","#8db3e2"]},"legend":{"title":null,"orient":"none","legendX":584,"legendY":359,"direction":"horizontal"}},
      "strokeDash":{"field":"s","type":"nominal","scale":{"domain":["0%","25%","50%","75%","100%","move","watch"],"range":[[1,0],[1,0],[1,0],[1,0],[1,0],[9,5],[9,5]]},"legend":{"title":null,"orient":"none","legendX":584,"legendY":359,"direction":"horizontal"}}}},
    {"mark":{"type":"rule","color":"#f2e400","strokeWidth":2.5},"encoding":{"x":{"datum":4},"y":{"datum":0.256},"y2":{"datum":-0.025}}},
    {"mark":{"type":"text","align":"center","baseline":"middle","font":"Open Sans","fontSize":16,"fontWeight":"bold","color":"#1a1a1a"},"encoding":{"x":{"datum":5},"y":{"datum":0.279},"text":{"value":"R. Anterior Insula"}}}
   ]},
  {"width":262,"height":158,"view":{"fill":"#ebebeb","stroke":null},"data":{"values":[{}]},
   "layer":[
    {"mark":{"type":"rule","color":"#a6a6a6","strokeWidth":1.5},"encoding":{"y":{"datum":0}}},
    {"data":{"name":"pre"},"mark":{"type":"line","strokeWidth":3,"strokeJoin":"round","clip":true},
     "encoding":{
      "x":{"field":"t","type":"quantitative","scale":{"domain":[-1,11],"nice":false,"zero":false},"axis":{"values":[0,2,4,6,8,10],"tickCount":50,"format":"d","title":null,"labelPadding":-26.5,"labelBaseline":"middle","domain":false,"labelColor":"#262626","labelOverlap":false,"labelFlush":false,"zindex":1}},
      "y":{"field":"v","type":"quantitative","scale":{"domain":[-0.1,0.2],"nice":false,"zero":false},"axis":{"values":[-0.1,0,0.1,0.2],"tickCount":50,"labelExpr":"replace(format(datum.value, '.1~f'), '\u2212', '-')","title":null,"labelPadding":18,"labelOverlap":false,"labelFlush":false,"zindex":1}},
      "color":{"field":"s","type":"nominal","scale":{"domain":["0%","25%","50%","75%","100%","move","watch"],"range":["#2a6ebb","#d23f3a","#72ad44","#7a4d9c","#1aa0b8","#f7903a","#8db3e2"]},"legend":{"title":null,"orient":"none","legendX":584,"legendY":359,"direction":"horizontal"}},
      "strokeDash":{"field":"s","type":"nominal","scale":{"domain":["0%","25%","50%","75%","100%","move","watch"],"range":[[1,0],[1,0],[1,0],[1,0],[1,0],[9,5],[9,5]]},"legend":{"title":null,"orient":"none","legendX":584,"legendY":359,"direction":"horizontal"}}}},
    {"mark":{"type":"rule","color":"#f2e400","strokeWidth":2.5},"encoding":{"x":{"datum":4},"y":{"datum":0.09},"y2":{"datum":-0.043}}},
    {"mark":{"type":"text","align":"center","baseline":"middle","font":"Open Sans","fontSize":16,"fontWeight":"bold","color":"#1a1a1a"},"encoding":{"x":{"datum":4.6},"y":{"datum":0.181},"text":{"value":"R.Precuneus"}}}
   ]}
 ]}
]}
]
}
